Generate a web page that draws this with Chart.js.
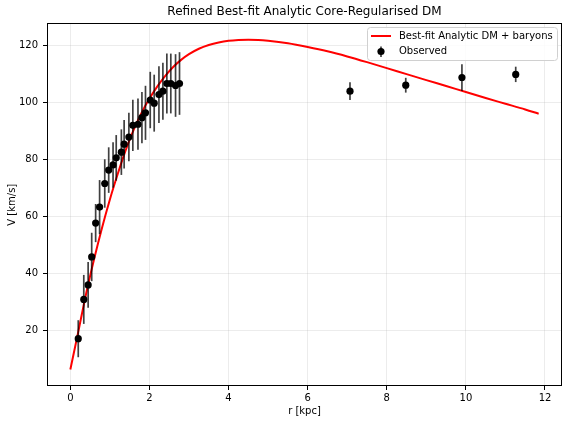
<!DOCTYPE html>
<html>
<head>
<meta charset="utf-8">
<script src="https://cdn.jsdelivr.net/npm/chart.js@4"></script>
<style>
  html, body { margin: 0; padding: 0; background: #fff; }
  #wrap { width: 568px; height: 424px; }
</style>
</head>
<body>
<div id="wrap"><canvas id="myChart" width="568" height="424"></canvas></div>
<script>
// observed rotation curve
const obsR = [0.20, 0.34, 0.45, 0.54, 0.64, 0.74, 0.87, 0.97, 1.08, 1.16, 1.29, 1.36, 1.48, 1.58, 1.71,
  1.81, 1.90, 2.02, 2.12, 2.24, 2.34, 2.44, 2.54, 2.66, 2.76, 7.07, 8.48, 9.90, 11.26];
const obsV = [17.1, 30.9, 36.0, 45.8, 57.7, 63.3, 71.6, 76.3, 78.1, 80.6, 82.6, 85.4, 87.9, 92.0, 92.4,
  94.7, 96.4, 100.9, 99.8, 102.8, 104.0, 106.7, 106.7, 106.0, 106.7, 104.0, 106.1, 108.8, 109.9];
const obsErr = [6.5, 8.6, 8.0, 8.5, 6.7, 9.5, 8.5, 8.0, 8.0, 8.0, 8.0, 8.5, 8.5, 9.0, 9.0,
  9.0, 9.5, 9.9, 10.0, 10.0, 10.0, 10.5, 10.5, 11.0, 11.0, 3.1, 2.6, 4.7, 2.7];

// best-fit model curve
const fitR = [0, 0.2, 0.4, 0.6, 0.8, 1.0, 1.2, 1.4, 1.6, 1.8, 2.0, 2.2, 2.4, 2.6, 2.8, 3.0, 3.25, 3.5,
  3.75, 4.0, 4.25, 4.5, 4.75, 5.0, 5.5, 6.0, 6.5, 7.0, 7.5, 8.0, 8.5, 9.0, 9.5, 10.0, 10.5, 11.0,
  11.5, 11.84];
const fitV = [6.3, 19.5, 33.0, 45.0, 56.0, 66.0, 75.0, 83.3, 90.4, 96.4, 101.4, 105.7, 109.4, 112.5,
  115.0, 117.0, 118.9, 120.2, 121.1, 121.7, 122.0, 122.1, 122.0, 121.7, 120.8, 119.5, 118.0, 116.2,
  114.2, 112.1, 110.0, 107.9, 105.8, 103.7, 101.6, 99.6, 97.6, 96.1];

const xTicks = [0, 2, 4, 6, 8, 10, 12];
const yTicks = [20, 40, 60, 80, 100, 120];

const FONT = 'DejaVu Sans';

const errorBars = {
  id: 'errorBars',
  beforeDatasetDraw(chart, args) {
    if (args.index !== 1) return;
    const { ctx, scales: { x, y } } = chart;
    ctx.save();
    ctx.strokeStyle = 'rgba(0,0,0,0.75)';
    ctx.lineWidth = 1.7;
    obsR.forEach((r, i) => {
      const px = x.getPixelForValue(r);
      ctx.beginPath();
      ctx.moveTo(px, y.getPixelForValue(obsV[i] - obsErr[i]));
      ctx.lineTo(px, y.getPixelForValue(obsV[i] + obsErr[i]));
      ctx.stroke();
    });
    ctx.restore();
  },
  afterDraw(chart) {
    const { ctx, chartArea: a } = chart;
    ctx.save();
    // frame
    ctx.strokeStyle = '#000';
    ctx.lineWidth = 1;
    ctx.strokeRect(Math.round(a.left) + 0.5, Math.round(a.top) + 0.5,
      Math.round(a.right - a.left) - 1, Math.round(a.bottom - a.top) - 1);

    // legend
    const bx = 367, by = 27, bw = 190, bh = 33;
    ctx.fillStyle = 'rgba(255,255,255,0.85)';
    ctx.strokeStyle = '#d0d0d0';
    ctx.beginPath();
    ctx.roundRect(bx + 0.5, by + 0.5, bw, bh, 3);
    ctx.fill();
    ctx.stroke();

    ctx.strokeStyle = 'red';
    ctx.lineWidth = 2;
    ctx.beginPath();
    ctx.moveTo(371, 36);
    ctx.lineTo(391, 36);
    ctx.stroke();

    ctx.strokeStyle = 'rgba(0,0,0,0.75)';
    ctx.lineWidth = 1.7;
    ctx.beginPath();
    ctx.moveTo(381, 46.5);
    ctx.lineTo(381, 57);
    ctx.stroke();
    ctx.fillStyle = '#000';
    ctx.beginPath();
    ctx.arc(381, 51.5, 3.6, 0, Math.PI * 2);
    ctx.fill();

    ctx.fillStyle = '#000';
    ctx.font = '10px ' + FONT;
    ctx.textBaseline = 'middle';
    ctx.textAlign = 'left';
    ctx.fillText('Best-fit Analytic DM + baryons', 399, 36);
    ctx.fillText('Observed', 399, 51.5);
    ctx.restore();
  }
};

const ctx = document.getElementById('myChart').getContext('2d');
new Chart(ctx, {
  type: 'scatter',
  data: {
    datasets: [{
      label: 'Best-fit Analytic DM + baryons',
      data: fitR.map((r, i) => ({ x: r, y: fitV[i] })),
      showLine: true,
      borderColor: 'red',
      borderWidth: 2,
      pointRadius: 0,
      cubicInterpolationMode: 'monotone',
      order: 2
    }, {
      label: 'Observed',
      data: obsR.map((r, i) => ({ x: r, y: obsV[i] })),
      pointRadius: 3.6,
      pointBackgroundColor: '#000',
      pointBorderWidth: 0,
      order: 1
    }]
  },
  options: {
    responsive: false,
    animation: false,
    layout: { padding: { left: 0, right: 6, top: 0, bottom: 0 } },
    plugins: {
      legend: { display: false },
      tooltip: { enabled: false },
      title: {
        display: true,
        text: 'Refined Best-fit Analytic Core-Regularised DM',
        fullSize: false,
        color: '#000',
        font: { family: FONT, size: 12, weight: 'normal' },
        padding: { top: 5, bottom: 4 }
      }
    },
    scales: {
      x: {
        type: 'linear',
        min: -0.59,
        max: 12.43,
        afterFit(scale) { scale.height = 38; },
        afterBuildTicks(scale) { scale.ticks = xTicks.map(v => ({ value: v })); },
        border: { display: false },
        grid: { color: 'rgba(176,176,176,0.3)', lineWidth: 0.8, tickColor: '#000', tickLength: 4, tickWidth: 1 },
        ticks: { color: '#000', font: { family: FONT, size: 10 }, padding: 2, maxRotation: 0 },
        title: { display: true, text: 'r [kpc]', color: '#000', font: { family: FONT, size: 10 }, padding: { top: 0, bottom: 7 } }
      },
      y: {
        type: 'linear',
        min: 0.5,
        max: 127.8,
        afterFit(scale) { scale.width = 47; },
        afterBuildTicks(scale) { scale.ticks = yTicks.map(v => ({ value: v })); },
        border: { display: false },
        grid: { color: 'rgba(176,176,176,0.3)', lineWidth: 0.8, tickColor: '#000', tickLength: 4, tickWidth: 1 },
        ticks: { color: '#000', font: { family: FONT, size: 10 }, padding: 5 },
        title: { display: true, text: 'V [km/s]', color: '#000', font: { family: FONT, size: 10 }, padding: { top: 6, bottom: 0 } }
      }
    }
  },
  plugins: [errorBars]
});
</script>
</body>
</html>
